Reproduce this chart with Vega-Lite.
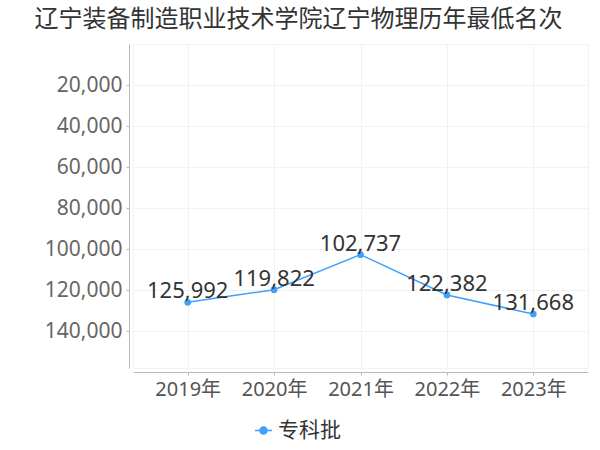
{
  "$schema": "https://vega.github.io/schema/vega-lite/v6.json",
  "autosize": "none",
  "width": 455,
  "height": 324,
  "padding": {"left": 133, "top": 44, "right": 12, "bottom": 82},
  "background": "white",
  "title": {
    "text": "辽宁装备制造职业技术学院辽宁物理历年最低名次",
    "font": "Noto Sans CJK SC",
    "fontSize": 24,
    "fontWeight": "normal",
    "color": "#333333",
    "anchor": "middle",
    "dx": -62,
    "offset": 12
  },
  "config": {
    "view": {"stroke": "#f2f2f2"},
    "font": "Noto Sans, Noto Sans CJK SC"
  },
  "data": {
    "values": [
      {"year": "2019年", "rank": 125992, "type": "专科批"},
      {"year": "2020年", "rank": 119822, "type": "专科批"},
      {"year": "2021年", "rank": 102737, "type": "专科批"},
      {"year": "2022年", "rank": 122382, "type": "专科批"},
      {"year": "2023年", "rank": 131668, "type": "专科批"}
    ]
  },
  "encoding": {
    "x": {
      "field": "year",
      "type": "ordinal",
      "scale": {"type": "point", "padding": 0.633},
      "axis": {
        "title": null,
        "labelAngle": 0,
        "labelFont": "Noto Sans, Noto Sans CJK SC",
        "labelFontSize": 20,
        "labelColor": "#555555",
        "labelPadding": 4,
        "tickSize": 3,
        "tickColor": "#bbbbbb",
        "domainColor": "#bbbbbb",
        "grid": true,
        "gridColor": "#f2f2f2",
        "offset": 4
      }
    },
    "y": {
      "field": "rank",
      "type": "quantitative",
      "scale": {"domain": [0, 158000], "reverse": true, "nice": false, "zero": false},
      "axis": {
        "title": null,
        "values": [20000, 40000, 60000, 80000, 100000, 120000, 140000],
        "format": ",d",
        "labelFont": "Noto Sans",
        "labelFontSize": 21,
        "labelColor": "#666666",
        "labelPadding": 4,
        "tickSize": 3,
        "tickColor": "#bbbbbb",
        "domainColor": "#bbbbbb",
        "gridColor": "#f2f2f2",
        "offset": 4
      }
    }
  },
  "layer": [
    {
      "mark": {"type": "line", "strokeWidth": 1.5, "point": {"size": 45, "filled": true, "opacity": 1}},
      "encoding": {
        "color": {
          "field": "type",
          "type": "nominal",
          "scale": {"range": ["#3ea1fb"]},
          "legend": {
            "title": null,
            "orient": "none",
            "legendX": 120,
            "legendY": 376,
            "labelFont": "Noto Sans CJK SC",
            "labelFontSize": 21,
            "labelColor": "#333333",
            "symbolType": "M-1,0L1,0M-0.41,0A0.41,0.41,0,1,1,0.41,0A0.41,0.41,0,1,1,-0.41,0Z",
            "symbolSize": 289,
            "symbolStrokeWidth": 1.5,
            "symbolFillColor": "#3ea1fb",
            "symbolStrokeColor": "#3ea1fb",
            "labelOffset": 4
          }
        }
      }
    },
    {
      "mark": {"type": "text", "baseline": "alphabetic", "dy": -4, "fontSize": 22, "font": "Noto Sans", "color": "#333333"},
      "encoding": {"text": {"field": "rank", "type": "quantitative", "format": ",d"}}
    }
  ]
}
